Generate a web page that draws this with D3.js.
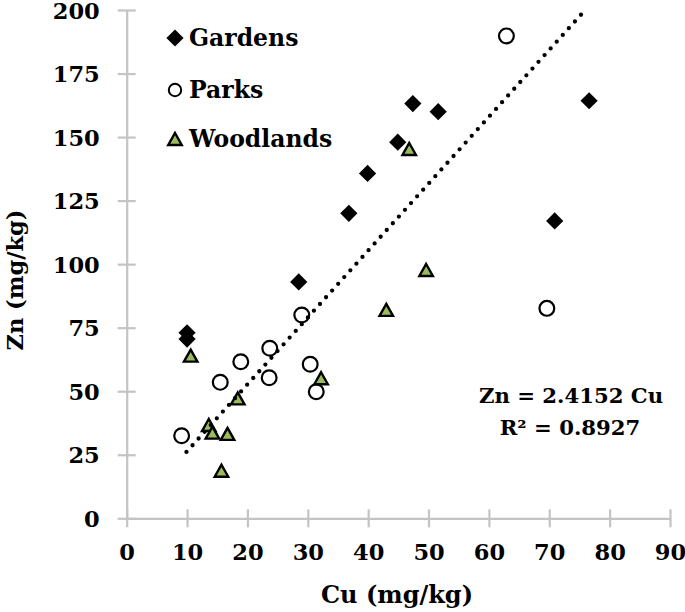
<!DOCTYPE html>
<html>
<head>
<meta charset="utf-8">
<script src="https://cdn.jsdelivr.net/npm/d3@7"></script>
<style>
  html, body { margin: 0; padding: 0; background: #fff; }
  svg { display: block; }
</style>
</head>
<body>
<svg id="chart" width="685" height="612"></svg>
<script>
// ---- data ----
const gardensCu = [10, 10, 28.5, 36.8, 39.9, 44.9, 47.4, 51.6, 70.9, 76.6];
const gardensZn = [73, 70.5, 93, 120, 135.7, 148, 163.2, 160, 117, 164.3];
const parksCu = [9.1, 15.5, 18.9, 23.6, 23.7, 29.0, 30.4, 31.4, 62.9, 69.6];
const parksZn = [32.5, 53.5, 61.6, 55.3, 66.9, 80.0, 60.6, 49.8, 189.8, 82.6];
const woodCu = [10.6, 13.6, 14.2, 15.7, 16.7, 18.4, 32.2, 43.0, 46.8, 49.6];
const woodZn = [64.0, 36.7, 33.7, 18.7, 33.2, 47.2, 55.1, 82.0, 145.3, 97.7];
const trendCu = [9.9, 75.7];
const trendZn = [26.1, 199.3];
const xTicks = [0, 10, 20, 30, 40, 50, 60, 70, 80, 90];
const yTicks = [0, 25, 50, 75, 100, 125, 150, 175, 200];
const seriesNames = ["Gardens", "Parks", "Woodlands"];
const equationLines = ["Zn = 2.4152 Cu", "R² = 0.8927"];

const FONT = "'DejaVu Serif', serif";
const svg = d3.select("#chart");
const x = d3.scaleLinear().domain([0, 90]).range([126.7, 670]);
const y = d3.scaleLinear().domain([0, 200]).range([518.3, 10]);
const axisColor = "#c4c4c4";

// axes
const gx = svg.append("g").attr("transform", `translate(0,${y(0)})`)
  .call(d3.axisBottom(x).tickValues(xTicks).tickSize(9).tickPadding(0).tickSizeOuter(0));
gx.select(".domain").attr("stroke", axisColor).attr("stroke-width", 2.2);
gx.selectAll(".tick line").attr("stroke", axisColor).attr("stroke-width", 2.2).attr("y1", -9).attr("y2", 9);
gx.selectAll(".tick text").attr("y", 42).attr("dy", null)
  .attr("font-family", FONT).attr("font-weight", "bold").attr("font-size", 22.5).attr("fill", "#000");

const gy = svg.append("g").attr("transform", `translate(${x(0)},0)`)
  .call(d3.axisLeft(y).tickValues(yTicks).tickSize(9).tickPadding(0).tickSizeOuter(0));
gy.select(".domain").attr("stroke", axisColor).attr("stroke-width", 2.2);
gy.selectAll(".tick line").attr("stroke", axisColor).attr("stroke-width", 2.2).attr("x1", -9).attr("x2", 9);
gy.selectAll(".tick text").attr("x", -27).attr("dy", "0.36em")
  .attr("font-family", FONT).attr("font-weight", "bold").attr("font-size", 22.5).attr("fill", "#000");

// axis titles
svg.append("text").attr("x", 397).attr("y", 603).attr("text-anchor", "middle")
  .attr("font-family", FONT).attr("font-weight", "bold").attr("font-size", 24).text("Cu (mg/kg)");
svg.append("text").attr("transform", "translate(23,280) rotate(-90)").attr("text-anchor", "middle")
  .attr("font-family", FONT).attr("font-weight", "bold").attr("font-size", 22.5).text("Zn (mg/kg)");

// markers
const diamond = s => `M0,${-s}L${s},0L0,${s}L${-s},0Z`;
const tri = (w, h) => `M0,${-h / 2}L${w / 2},${h / 2}L${-w / 2},${h / 2}Z`;
const green = "#9bbb59";

svg.append("g").selectAll("path").data(d3.range(gardensCu.length)).join("path")
  .attr("transform", i => `translate(${x(gardensCu[i])},${y(gardensZn[i])})`)
  .attr("d", diamond(8.6)).attr("fill", "#000");

svg.append("g").selectAll("circle").data(d3.range(parksCu.length)).join("circle")
  .attr("cx", i => x(parksCu[i])).attr("cy", i => y(parksZn[i])).attr("r", 7.4)
  .attr("fill", "#fff").attr("stroke", "#000").attr("stroke-width", 2.2);

svg.append("g").selectAll("path").data(d3.range(woodCu.length)).join("path")
  .attr("transform", i => `translate(${x(woodCu[i])},${y(woodZn[i])})`)
  .attr("d", tri(13.5, 12)).attr("fill", green).attr("stroke", "#000").attr("stroke-width", 2.4);

// trend line
svg.append("path")
  .attr("d", d3.line()([[x(trendCu[0]), y(trendZn[0])], [x(trendCu[1]), y(trendZn[1])]]))
  .attr("stroke", "#000").attr("stroke-width", 4.3).attr("stroke-linecap", "round")
  .attr("stroke-dasharray", "0 9.06").attr("fill", "none");

// legend
const leg = svg.append("g");
const legY = [38, 90, 139];
leg.append("path").attr("transform", `translate(175,${legY[0]})`).attr("d", diamond(8.6)).attr("fill", "#000");
leg.append("circle").attr("cx", 175).attr("cy", legY[1]).attr("r", 6.2).attr("fill", "#fff").attr("stroke", "#000").attr("stroke-width", 2);
leg.append("path").attr("transform", `translate(175,${legY[2]})`).attr("d", tri(13.5, 12)).attr("fill", green).attr("stroke", "#000").attr("stroke-width", 2.4);
leg.selectAll("text").data(seriesNames).join("text")
  .attr("x", 189).attr("y", (d, i) => legY[i] + 8)
  .attr("font-family", FONT).attr("font-weight", "bold").attr("font-size", 23.5).text(d => d);

// equation
svg.append("text").attr("x", 571).attr("y", 403).attr("text-anchor", "middle")
  .attr("font-family", FONT).attr("font-weight", "bold").attr("font-size", 21.2).text(equationLines[0]);
svg.append("text").attr("x", 570).attr("y", 435).attr("text-anchor", "middle")
  .attr("font-family", FONT).attr("font-weight", "bold").attr("font-size", 21.2).text(equationLines[1]);
</script>
</body>
</html>
